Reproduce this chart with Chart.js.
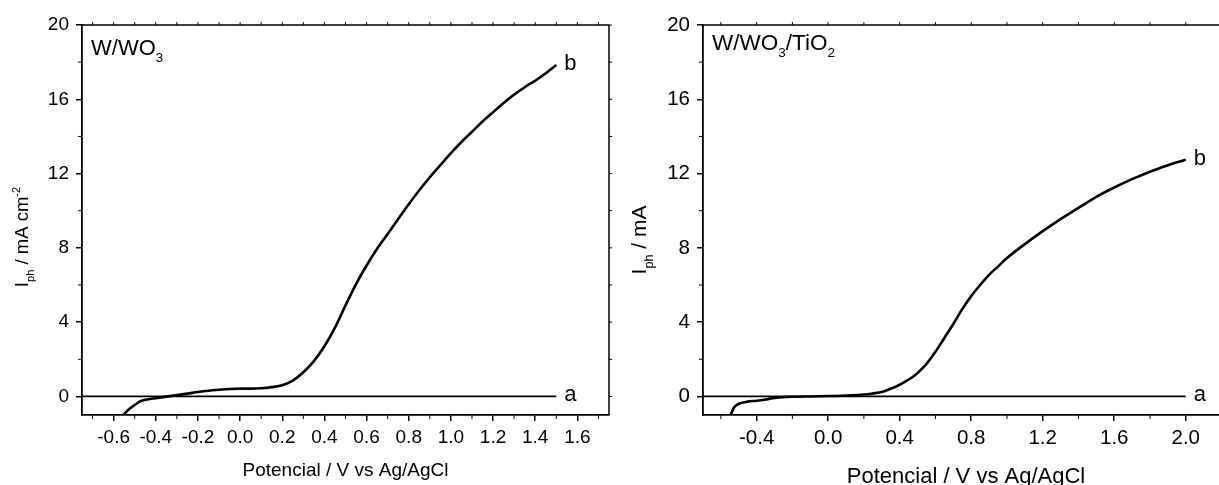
<!DOCTYPE html>
<html>
<head>
<meta charset="utf-8">
<script src="https://cdn.jsdelivr.net/npm/chart.js@4.4.1/dist/chart.umd.min.js"></script>
<style>
  body { margin: 0; background: #fff; overflow: hidden; }
  .panel { position: absolute; top: 0; height: 485px; }
  #p1 { left: 0; width: 620px; }
  #p2 { left: 620px; width: 599px; }
</style>
</head>
<body>
<div class="panel" id="p1"><canvas id="chartWO3"></canvas></div>
<div class="panel" id="p2"><canvas id="chartTiO2"></canvas></div>
<script>
// W/WO3 - curva b (fotocorriente) y curva a (oscuridad)
const wo3PotB = [-0.553, -0.53, -0.51, -0.49, -0.47, -0.44, -0.4, -0.35, -0.3, -0.25, -0.2, -0.15, -0.1, -0.05,
    0.0, 0.05, 0.1, 0.15, 0.2, 0.25, 0.3, 0.35, 0.4, 0.45, 0.5, 0.55, 0.6, 0.65, 0.7, 0.75, 0.8, 0.85, 0.9,
    0.95, 1.0, 1.05, 1.1, 1.15, 1.2, 1.25, 1.3, 1.35, 1.4, 1.45, 1.5];
const wo3CurB = [-1.0, -0.72, -0.54, -0.38, -0.25, -0.16, -0.09, -0.01, 0.07, 0.15, 0.24, 0.31, 0.36, 0.40,
    0.42, 0.42, 0.44, 0.50, 0.60, 0.85, 1.3, 1.9, 2.7, 3.7, 4.9, 6.05, 7.05, 7.95, 8.75, 9.55, 10.35, 11.1, 11.8,
    12.45, 13.1, 13.7, 14.25, 14.8, 15.3, 15.8, 16.25, 16.65, 17.0, 17.4, 17.85];
const wo3PotA = [-0.75, 1.5];
const wo3CurA = [0, 0];

// W/WO3/TiO2
const tioPotB = [-0.545, -0.53, -0.51, -0.49, -0.45, -0.4, -0.35, -0.31, -0.25, -0.2, -0.1, 0.0, 0.1, 0.18,
    0.25, 0.31, 0.36, 0.4, 0.44, 0.48, 0.51, 0.55, 0.6, 0.65, 0.7, 0.75, 0.8, 0.85, 0.9, 0.95, 1.0, 1.1,
    1.2, 1.3, 1.4, 1.5, 1.6, 1.7, 1.8, 1.9, 2.0];
const tioCurB = [-1.0, -0.65, -0.45, -0.36, -0.28, -0.23, -0.17, -0.09, -0.04, -0.02, 0.0, 0.02, 0.05, 0.09,
    0.16, 0.27, 0.45, 0.63, 0.85, 1.1, 1.35, 1.75, 2.4, 3.15, 3.9, 4.7, 5.4, 6.0, 6.55, 7.0, 7.45, 8.2,
    8.9, 9.55, 10.15, 10.75, 11.25, 11.7, 12.1, 12.45, 12.74];
const tioPotA = [-0.7, 2.0];
const tioCurA = [0, 0];

// ejes
const wo3XTicks = [-0.6, -0.4, -0.2, 0.0, 0.2, 0.4, 0.6, 0.8, 1.0, 1.2, 1.4, 1.6];
const wo3XMinor = [-0.7, -0.5, -0.3, -0.1, 0.1, 0.3, 0.5, 0.7, 0.9, 1.1, 1.3, 1.5, 1.7];
const tioXTicks = [-0.4, 0.0, 0.4, 0.8, 1.2, 1.6, 2.0];
const tioXMinor = [-0.6, -0.2, 0.2, 0.6, 1.0, 1.4, 1.8];
const yTicks = [0, 4, 8, 12, 16, 20];
const yMinor = [2, 6, 10, 14, 18];

const FONT = 'Arial, "Liberation Sans", sans-serif';
Chart.defaults.font.family = FONT;
Chart.defaults.color = '#000';

function pts(xs, ys) {
    return xs.map((x, i) => ({ x: x, y: ys[i] }));
}

// texto con subindices (1) y superindices (2)
function richText(ctx, parts, x, y, size, align) {
    const fontFor = m => (m ? size * 0.6 : size) + 'px ' + FONT;
    let w = 0;
    parts.forEach(([t, m]) => { ctx.font = fontFor(m); w += ctx.measureText(t).width; });
    let cx = align === 'center' ? x - w / 2 : x;
    parts.forEach(([t, m]) => {
        ctx.font = fontFor(m);
        const dy = m === 1 ? size * 0.32 : (m === 2 ? -size * 0.42 : 0);
        ctx.fillText(t, cx, y + dy);
        cx += ctx.measureText(t).width;
    });
}

const framePlugin = {
    id: 'frame',
    afterDraw(chart, args, o) {
        const { ctx, chartArea: a, scales: { x, y } } = chart;
        ctx.save();
        ctx.strokeStyle = '#000';
        ctx.fillStyle = '#000';
        ctx.lineWidth = 1.5;
        ctx.beginPath();
        ctx.moveTo(a.left, a.top); ctx.lineTo(a.right, a.top);
        if (o.rightBorder) { ctx.moveTo(a.right, a.top); ctx.lineTo(a.right, a.bottom); }
        ctx.stroke();
        // ticks menores y ticks del marco
        ctx.lineWidth = 1;
        ctx.beginPath();
        o.xMinor.forEach(v => {
            const px = x.getPixelForValue(v);
            ctx.moveTo(px, a.bottom); ctx.lineTo(px, a.bottom + 4);
        });
        yMinor.forEach(v => {
            const py = y.getPixelForValue(v);
            ctx.moveTo(a.left, py); ctx.lineTo(a.left - 4, py);
        });
        o.xMinor.concat(o.xTicks).forEach(v => {
            const px = x.getPixelForValue(v);
            ctx.moveTo(px, a.top); ctx.lineTo(px, a.top - 3);
        });
        if (o.rightBorder) {
            yMinor.concat(yTicks).forEach(v => {
                const py = y.getPixelForValue(v);
                ctx.moveTo(a.right, py); ctx.lineTo(a.right + 3, py);
            });
        }
        ctx.stroke();
        // etiquetas a y b al final de cada curva
        ctx.textBaseline = 'alphabetic';
        ctx.textAlign = 'left';
        ctx.font = '22px ' + FONT;
        chart.data.datasets.forEach(ds => {
            const last = ds.data[ds.data.length - 1];
            ctx.fillText(ds.label, x.getPixelForValue(last.x) + 8, y.getPixelForValue(last.y) + 5);
        });
        // nombre del electrodo
        richText(ctx, o.name, a.left + 9, a.top + o.nameDy, o.nameSize, 'left');
        // titulos de ejes
        richText(ctx, o.xTitle, (a.left + a.right) / 2 + o.xTitleDx, o.xTitleY, o.xTitleSize, 'center');
        ctx.translate(o.yTitleX, o.yTitleY);
        ctx.rotate(-Math.PI / 2);
        richText(ctx, o.yTitle, 0, 0, o.yTitleSize, 'center');
        ctx.restore();
    }
};

function makeChart(id, cfg) {
    return new Chart(document.getElementById(id), {
        type: 'line',
        data: {
            datasets: [
                { label: 'b', data: pts(cfg.potB, cfg.curB), borderColor: '#000', borderWidth: 2.6,
                  pointRadius: 0, cubicInterpolationMode: 'monotone', fill: false },
                { label: 'a', data: pts(cfg.potA, cfg.curA), borderColor: '#000', borderWidth: 1.8,
                  pointRadius: 0, fill: false }
            ]
        },
        options: {
            responsive: true,
            maintainAspectRatio: false,
            animation: false,
            layout: { padding: { top: 25, right: cfg.padRight, left: 0, bottom: 0 } },
            plugins: {
                legend: { display: false },
                tooltip: { enabled: false },
                frame: cfg.frame
            },
            scales: {
                x: {
                    type: 'linear',
                    min: cfg.xMin,
                    max: cfg.xMax,
                    afterBuildTicks: s => { s.ticks = cfg.xTicks.map(v => ({ value: v })); },
                    afterFit: s => { s.height = 70; },
                    grid: { drawOnChartArea: false, drawTicks: true, tickLength: 6, color: '#000', tickColor: '#000', lineWidth: 1.5 },
                    border: { display: true, color: '#000', width: 1.8 },
                    ticks: { font: { size: cfg.tickSize }, color: '#000', padding: 5, maxRotation: 0,
                              callback: v => v.toFixed(1) }
                },
                y: {
                    min: -1,
                    max: 20,
                    afterBuildTicks: s => { s.ticks = yTicks.map(v => ({ value: v })); },
                    afterFit: s => { s.width = cfg.yWidth; },
                    grid: { drawOnChartArea: false, drawTicks: true, tickLength: 6, color: '#000', tickColor: '#000', lineWidth: 1.5 },
                    border: { display: true, color: '#000', width: 1.8 },
                    ticks: { font: { size: cfg.tickSize }, color: '#000', padding: 7 }
                }
            }
        },
        plugins: [framePlugin]
    });
}

makeChart('chartWO3', {
    potB: wo3PotB, curB: wo3CurB, potA: wo3PotA, curA: wo3CurA,
    xMin: -0.75, xMax: 1.75, xTicks: wo3XTicks, tickSize: 19, yWidth: 82, padRight: 11,
    frame: {
        rightBorder: true, xTicks: wo3XTicks, xMinor: wo3XMinor,
        name: [['W/WO', 0], ['3', 1]], nameSize: 22, nameDy: 30,
        xTitle: [['Potencial / V vs Ag/AgCl', 0]], xTitleSize: 19, xTitleY: 476, xTitleDx: 0,
        yTitle: [['I', 0], ['ph', 1], [' / mA cm', 0], ['-2', 2]], yTitleSize: 18.5, yTitleX: 28, yTitleY: 237
    }
});

makeChart('chartTiO2', {
    potB: tioPotB, curB: tioCurB, potA: tioPotA, curA: tioCurA,
    xMin: -0.7, xMax: 2.186, xTicks: tioXTicks, tickSize: 20.5, yWidth: 83, padRight: 0,
    frame: {
        rightBorder: false, xTicks: tioXTicks, xMinor: tioXMinor,
        name: [['W/WO', 0], ['3', 1], ['/TiO', 0], ['2', 1]], nameSize: 22.5, nameDy: 25,
        xTitle: [['Potencial / V vs Ag/AgCl', 0]], xTitleSize: 22, xTitleY: 483, xTitleDx: 5,
        yTitle: [['I', 0], ['ph', 1], [' / mA', 0]], yTitleSize: 21, yTitleX: 26, yTitleY: 240
    }
});
</script>
</body>
</html>
